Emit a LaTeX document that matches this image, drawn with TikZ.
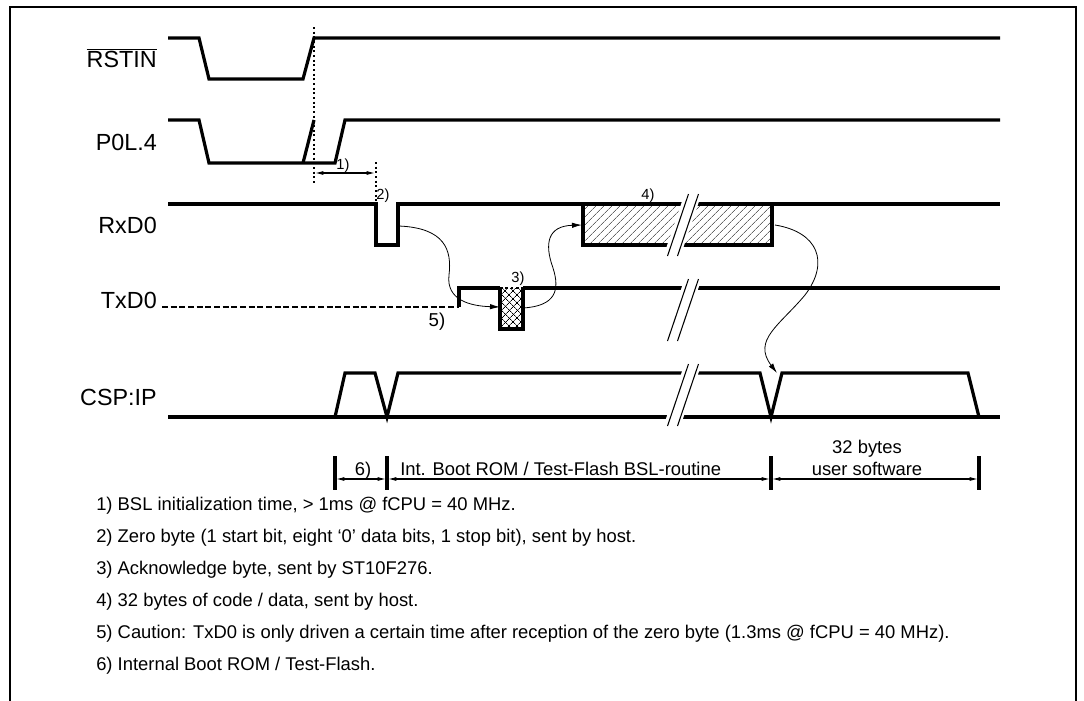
\documentclass[tikz,border=0pt]{standalone}
\usepackage{fontspec}
\setmainfont{Liberation Sans}
\usetikzlibrary{arrows.meta,patterns.meta}

\tikzset{
  sig/.style={line width=2.4pt},
  flow/.style={line width=0.6pt,-{Latex[length=7.5pt,width=4pt]}},
  dim/.style={line width=1.1pt,{Latex[length=7pt,width=3pt]}-{Latex[length=7pt,width=3pt]}},
  lbl/.style={anchor=base east,inner sep=0pt,font=\fontsize{17.5}{20}\selectfont},
  tag/.style={inner sep=0pt,font=\fontsize{11}{13}\selectfont},
  note/.style={anchor=base west,inner sep=0pt,font=\fontsize{13.8}{16}\selectfont}
}

% Break mark across a signal, centred at (#1,#2)
\newcommand{\brk}[2]{
  % The white gap
  \fill [white] ({#1-9+10.5},{#2-31}) -- ({#1+8+10.5},{#2-31})
                -- ({#1+8-10.5},{#2+31}) -- ({#1-9-10.5},{#2+31}) -- cycle;
  % The two slanted lines
  \draw [line width=0.8pt] ({#1-5+10.5},{#2-31}) -- ({#1-5-10.5},{#2+31});
  \draw [line width=0.8pt] ({#1+5+10.5},{#2-31}) -- ({#1+5-10.5},{#2+31});
}

\begin{document}
\begin{tikzpicture}[x=0.75pt,y=-0.75pt]
    \useasboundingbox (0,0) rectangle (1084,700);

    % The frame
    \draw [line width=1.5pt] (10,702) -- (10,7) -- (1076,7) -- (1076,702);

    % Signal names
    \node [lbl] (rstin) at (157,67) {$\overline{\mbox{RSTIN}}$};
    \node [lbl] (p0l) at (157,150) {P0L.4};
    \node [lbl] (rxd) at (157,233) {RxD0};
    \node [lbl] (txd) at (157,308) {TxD0};
    \node [lbl] (csp) at (157,405) {CSP:IP};

    % RSTIN
    \draw [sig] (168,38) -- (199,38) -- (209,79) -- (303,79) -- (314,38) -- (1000,38);

    % P0L.4
    \draw [sig] (168,120) -- (199,120) -- (209,163) -- (335,163) -- (345,120) -- (1000,120);
    \draw [sig] (303,163) -- (314,120);

    % Reset release and end of init time
    \draw [dotted,line width=1.5pt] (314,27) -- (314,183);
    \draw [dotted,line width=1.5pt] (376,162) -- (376,204);
    \coordinate (rel) at (314,173);
    \coordinate (init) at (376,173);
    \draw [dim] (rel) -- (init);
    \node [tag] (n1) at (343,166) {1)};

    % RxD0 with zero byte and data block
    \draw [sig] (168,204) -- (376,204) -- (376,245) -- (398,245) -- (398,204) -- (583,204);
    \fill [pattern={Lines[angle=45,distance=4pt,line width=0.5pt]},pattern color=black!60]
          (583,204) rectangle (772,245);
    \draw [sig] (583,204) rectangle (772,245);
    \draw [sig] (772,204) -- (1000,204);
    \node [tag] (n2) at (383,196) {2)};
    \node [tag] (n4) at (648,196) {4)};

    % TxD0 with acknowledge byte
    \draw [line width=1.8pt,dash pattern=on 4.5pt off 2pt] (162,307) -- (459,307);
    \draw [sig] (459,307) -- (459,288) -- (500,288);
    \fill [pattern={Lines[angle=45,distance=4pt,line width=0.5pt]}] (500,288) rectangle (523,329);
    \fill [pattern={Lines[angle=-45,distance=4pt,line width=0.5pt]}] (500,288) rectangle (523,329);
    \draw [sig] (500,288) -- (500,329) -- (523,329) -- (523,288);
    \draw [dotted,line width=2pt] (500,288) -- (523,288);
    \draw [sig] (523,288) -- (1000,288);
    \node [tag] (n3) at (518,279) {3)};
    \node [tag,font=\fontsize{14}{16}\selectfont] (n5) at (437,322) {5)};

    % CSP:IP
    \draw [sig] (168,417) -- (1000,417);
    \draw [sig] (335,417) -- (345,373) -- (375,373) -- (387,417) -- (398,373) -- (760,373)
                -- (771,417) -- (782,373) -- (968,373) -- (979,417);

    % Breaks
    \brk{683}{225}
    \brk{683}{310}
    \brk{683}{395}

    % Handshake
    \coordinate (zero) at (399,226);
    \coordinate (ackin) at (500,307);
    \coordinate (ackout) at (523,308);
    \coordinate (datain) at (582,225);
    \coordinate (dataout) at (775,225);
    \coordinate (jump) at (777,373);
    \draw [flow] (zero) .. controls (445,228) and (452,250) .. (449,275)
                 .. controls (446,300) and (470,306) .. (ackin);
    \draw [flow] (ackout) .. controls (556,306) and (560,290) .. (553,268)
                 .. controls (544,243) and (548,226) .. (datain);
    \draw [flow] (dataout) .. controls (818,232) and (830,262) .. (805,295)
                 .. controls (780,325) and (752,340) .. (jump);

    % Phases
    \foreach \x/\name in {335/t0,387/t1,771/t2,979/t3} {
      \draw [sig] (\x,456) -- (\x,490);
      \coordinate (\name) at (\x,479);
    }
    \draw [dim] (t0) -- (t1);
    \draw [dim] (t1) -- (t2);
    \draw [dim] (t2) -- (t3);
    \node [note,anchor=base] (n6) at (363,475) {6)};
    \node [note] (boot) at (400,475) {Int. Boot ROM / Test-Flash BSL-routine};
    \node [note,anchor=base] (bytes) at (867,453) {32 bytes};
    \node [note,anchor=base] (user) at (867,475) {user software};

    % Notes
    \node [note] (f1) at (96,510) {1) BSL initialization time, > 1ms @ fCPU = 40 MHz.};
    \node [note] (f2) at (96,542) {2) Zero byte (1 start bit, eight ‘0’ data bits, 1 stop bit), sent by host.};
    \node [note] (f3) at (96,574) {3) Acknowledge byte, sent by ST10F276.};
    \node [note] (f4) at (96,606) {4) 32 bytes of code / data, sent by host.};
    \node [note] (f5) at (96,638) {5) Caution: TxD0 is only driven a certain time after reception of the zero byte (1.3ms @ fCPU = 40 MHz).};
    \node [note] (f6) at (96,670) {6) Internal Boot ROM / Test-Flash.};
\end{tikzpicture}
\end{document}
